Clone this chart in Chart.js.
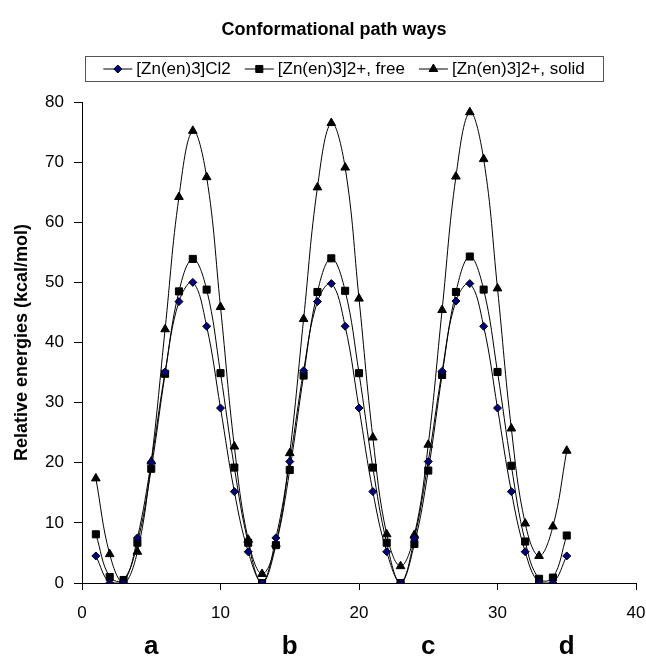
<!DOCTYPE html>
<html>
<head>
<meta charset="utf-8">
<script src="https://cdn.jsdelivr.net/npm/chart.js@4.4.0/dist/chart.umd.min.js"></script>
<style>
  html, body { margin: 0; padding: 0; background: #fff; }
</style>
</head>
<body>
<canvas id="chart" width="646" height="659"></canvas>
<script>
// step along the conformational path
const steps = [1, 2, 3, 4, 5, 6, 7, 8, 9, 10, 11, 12, 13, 14, 15, 16, 17, 18, 19, 20,
               21, 22, 23, 24, 25, 26, 27, 28, 29, 30, 31, 32, 33, 34, 35];

// relative energies (kcal/mol)
const cl2Energies = [4.5, 0, 0, 7.5, 20.1, 35.1, 46.8, 50.0, 42.7, 29.1, 15.2, 5.2, 0, 7.5, 20.2,
                     35.3, 46.8, 49.8, 42.7, 29.1, 15.2, 5.2, 0, 7.4, 20.2, 35.2, 46.9, 49.8, 42.7, 29.1,
                     15.2, 5.2, 0, 0, 4.5];
const freeEnergies = [8.1, 1.0, 0.5, 6.7, 19.0, 34.8, 48.5, 53.9, 48.8, 34.9, 19.2, 6.7, 0, 6.3, 18.8,
                      34.5, 48.4, 54.0, 48.6, 34.9, 19.2, 6.7, 0, 6.5, 18.7, 34.6, 48.4, 54.3, 48.8, 35.1,
                      19.5, 6.9, 0.7, 0.9, 7.9];
const solidEnergies = [17.4, 4.8, 0, 5.2, 20.2, 42.2, 64.2, 75.2, 67.5, 45.9, 22.7, 7.2, 1.5, 6.5, 21.6,
                       43.9, 65.8, 76.5, 69.1, 47.3, 24.2, 8.1, 2.8, 8.0, 23.0, 45.4, 67.6, 78.3, 70.5, 49.0,
                       25.7, 9.9, 4.5, 9.4, 22.0];

const seriesNames = ['[Zn(en)3]Cl2', '[Zn(en)3]2+, free', '[Zn(en)3]2+, solid'];
const pathLabels = ['a', 'b', 'c', 'd'];
const pathLabelSteps = [5, 15, 25, 35];

const chartTitle = 'Conformational path ways';
const FONT = '"Liberation Sans", Arial, sans-serif';

function toPoints(values) {
  return steps.map((s, i) => ({ x: s, y: values[i] }));
}

const seriesStyles = [
  { pointStyle: 'rectRot', radius: 4, fill: '#000080' },
  { pointStyle: 'rect', radius: 5, fill: '#000' },
  { pointStyle: 'triangle', radius: 5, fill: '#000' }
];

const datasets = [cl2Energies, freeEnergies, solidEnergies].map((vals, i) => ({
  label: seriesNames[i],
  data: toPoints(vals),
  borderColor: '#000',
  borderWidth: 1,
  tension: 0.4,
  pointStyle: seriesStyles[i].pointStyle,
  pointRadius: seriesStyles[i].radius,
  pointBackgroundColor: seriesStyles[i].fill,
  pointBorderColor: '#000',
  pointBorderWidth: 1
}));

// title, boxed legend and the a-d path labels
const decorations = {
  id: 'decorations',
  afterDraw(chart) {
    const ctx = chart.ctx;
    const xs = chart.scales.x;
    ctx.save();
    ctx.fillStyle = '#000';
    ctx.textBaseline = 'middle';

    ctx.font = 'bold 18px ' + FONT;
    ctx.textAlign = 'center';
    ctx.fillText(chartTitle, 334, 30);

    // legend
    const box = { left: 85, top: 56, right: 603, bottom: 81 };
    ctx.strokeStyle = '#555';
    ctx.lineWidth = 1;
    ctx.strokeRect(box.left + 0.5, box.top + 0.5, box.right - box.left, box.bottom - box.top);

    ctx.font = '17px ' + FONT;
    const sampleLen = 29, gapText = 4, gapEntry = 14;
    const widths = seriesNames.map(n => ctx.measureText(n).width);
    const total = widths.reduce((a, w) => a + w + sampleLen + gapText, 0) + gapEntry * (seriesNames.length - 1);
    let cx = (box.left + box.right) / 2 - total / 2;
    const cy = (box.top + box.bottom) / 2 + 0.5;
    ctx.textAlign = 'left';
    seriesNames.forEach((name, i) => {
      ctx.beginPath();
      ctx.moveTo(cx, cy);
      ctx.lineTo(cx + sampleLen, cy);
      ctx.strokeStyle = '#000';
      ctx.stroke();
      const st = seriesStyles[i];
      ctx.fillStyle = st.fill;
      ctx.strokeStyle = '#000';
      Chart.helpers.drawPoint(ctx, { pointStyle: st.pointStyle, radius: st.radius, borderWidth: 1 }, cx + sampleLen / 2, cy);
      ctx.fillStyle = '#000';
      ctx.fillText(name, cx + sampleLen + gapText, cy);
      cx += sampleLen + gapText + widths[i] + gapEntry;
    });

    ctx.font = 'bold 26px ' + FONT;
    ctx.textAlign = 'center';
    pathLabels.forEach((l, i) => {
      ctx.fillText(l, xs.getPixelForValue(pathLabelSteps[i]), 647);
    });
    ctx.restore();
  }
};

new Chart(document.getElementById('chart'), {
  type: 'line',
  data: { datasets },
  options: {
    responsive: false,
    animation: false,
    layout: { padding: { top: 102, right: 0, bottom: 26, left: 0 } },
    plugins: {
      legend: { display: false },
      title: { display: false },
      tooltip: { enabled: false }
    },
    scales: {
      x: {
        type: 'linear',
        min: 0,
        max: 40,
        ticks: { stepSize: 10, color: '#000', font: { size: 17, family: FONT }, padding: 13, maxRotation: 0 },
        grid: { drawOnChartArea: false, tickLength: 7, color: '#000' },
        border: { color: '#000', width: 1 },
        afterFit(scale) {
          scale.height = 50;
          scale.paddingLeft = 0;
          scale.paddingRight = 10;
        }
      },
      y: {
        min: 0,
        max: 80,
        ticks: { stepSize: 10, color: '#000', font: { size: 17, family: FONT }, padding: 10 },
        grid: { drawOnChartArea: false, tickLength: 8, color: '#000' },
        border: { color: '#000', width: 1 },
        title: {
          display: true,
          text: 'Relative energies (kcal/mol)',
          color: '#000',
          font: { size: 18, weight: 'bold', family: FONT },
          padding: { top: 11, bottom: 0 }
        },
        afterFit(scale) { scale.width = 82; }
      }
    }
  },
  plugins: [decorations]
});
</script>
</body>
</html>
